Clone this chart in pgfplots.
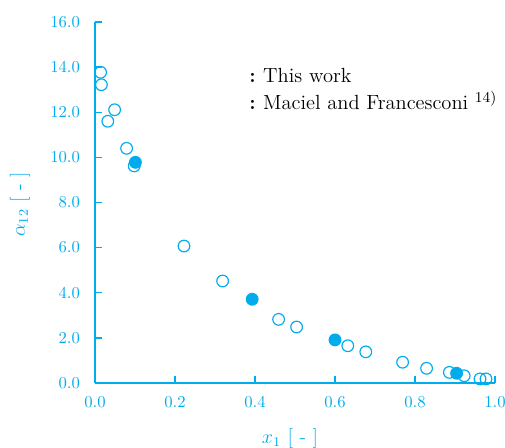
\documentclass[border=0pt]{standalone}
\usepackage{pgfplots}
\pgfplotsset{compat=1.18}
\definecolor{cy}{RGB}{0,172,236}
\begin{document}
\begin{tikzpicture}
\begin{axis}[
  scale only axis, width=240pt, height=216.6pt,
  xmin=0, xmax=1, ymin=0, ymax=16,
  axis x line=bottom, axis y line=left,
  axis line style={cy, line width=0.8pt, -},
  xtick={0,0.2,0.4,0.6,0.8,1.0}, ytick={0,2,4,6,8,10,12,14,16},
  tick style={cy, line width=0.8pt}, major tick length=4pt, tick align=inside,
  ticklabel style={cy},
  /pgf/number format/assume math mode=true,
  xticklabel style={/pgf/number format/.cd, fixed, fixed zerofill, precision=1},
  yticklabel style={/pgf/number format/.cd, fixed, fixed zerofill, precision=1},
  xticklabel shift=4.5pt, yticklabel shift=5.5pt,
  xlabel={$x_1$ [ - ]}, ylabel={$\alpha_{12}$ [ - ]},
  label style={cy, font=\large},
  xlabel style={at={(axis description cs:0.4875,-0.1524)}, anchor=center},
  ylabel style={at={(axis description cs:-0.1875,0.495)}, anchor=center},
  clip=false,
]
\addplot[only marks, mark=o, mark size=3.5pt, mark options={cy, line width=0.7pt}] coordinates {
(0.014,13.77) (0.016,13.22) (0.049,12.11) (0.032,11.60) (0.079,10.40) (0.098,9.62)
(0.2225,6.07) (0.319,4.52) (0.459,2.82) (0.504,2.48) (0.632,1.65) (0.677,1.38)
(0.769,0.92) (0.829,0.65) (0.886,0.47) (0.923,0.32) (0.9625,0.18) (0.9775,0.18)
};
\addplot[only marks, mark=*, mark size=3.5pt, mark options={cy, fill=cy, line width=0.7pt}] coordinates {
(0.101,9.78) (0.393,3.71) (0.600,1.91) (0.904,0.43)
};
\node[anchor=base west, font=\fontsize{12.3}{14}\selectfont, inner sep=0pt] at (axis cs:0.385,13.34) {\textbf{:}\hspace{4.5pt}This work};
\node[anchor=base west, font=\fontsize{12.3}{14}\selectfont, inner sep=0pt] at (axis cs:0.385,12.10) {\textbf{:}\hspace{4.5pt}Maciel and Francesconi $^{\mathrm{14)}}$};
\coordinate (ll) at (rel axis cs:0,0);
\coordinate (ur) at (rel axis cs:1,1);
\end{axis}
\pgfresetboundingbox
\path ([shift={(-57pt,-39pt)}]ll) rectangle ([shift={(6pt,13.2pt)}]ur);
\end{tikzpicture}
\end{document}
